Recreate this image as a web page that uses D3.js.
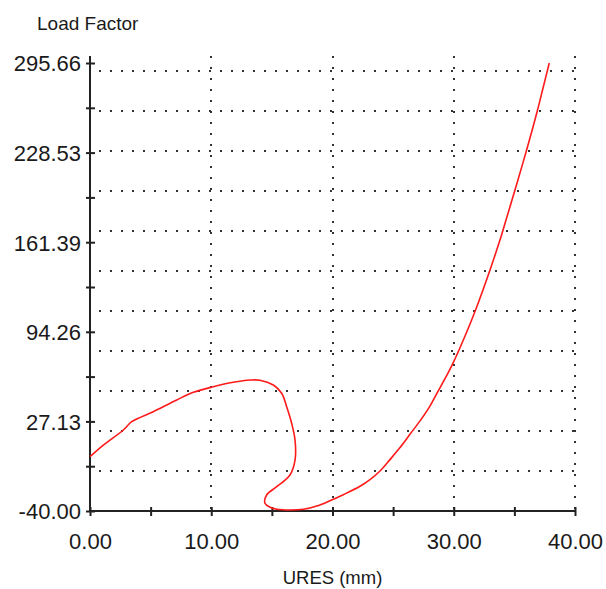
<!DOCTYPE html>
<html>
<head>
<meta charset="utf-8">
<script src="https://cdn.jsdelivr.net/npm/d3@7"></script>
<style>
  body { margin: 0; background: #fff; }
  text { font-family: "Liberation Sans", Arial, sans-serif; fill: #1a1a1a; }
</style>
</head>
<body>
<svg id="chart" width="606" height="589"></svg>
<script>
// displacement (mm) vs load factor
const ures = [0, 1.10, 2.75, 3.44, 5.22, 7.15, 8.52, 10.17, 11.82, 13.2, 14.02, 15.12, 15.81, 16.22,
  16.63, 16.91, 16.91, 16.49, 15.40, 14.57, 14.43, 14.85, 15.40, 16.49, 17.6, 18.7, 19.79, 20.89,
  22.27, 23.09, 23.92, 24.74, 25.57, 26.39, 27.22, 28.0, 28.6, 29.3, 29.9, 30.79, 31.8, 32.99,
  33.81, 34.31, 35.05, 36.01, 36.89, 37.39, 37.88];
const loadFactor = [0.7, 9.4, 20.7, 26.9, 34.4, 43.2, 48.9, 53.1, 56.4, 58.1, 58.0, 54.4, 48.2, 38.1,
  25.7, 13.2, -1.8, -13.0, -21.8, -28.0, -34.2, -37.2, -38.7, -39.3, -38.7, -36.3, -32.3, -27.8,
  -21.5, -16.5, -10.0, -1.5, 7.5, 17.5, 27.5, 38.0, 48.0, 59.5, 70.0, 88.1, 110.6, 140.6,
  163.0, 178.0, 200.5, 230.5, 259.7, 277.9, 295.66];

const xTicks = [0, 5, 10, 15, 20, 25, 30, 35, 40];
const xTickLabels = ["0.00", "", "10.00", "", "20.00", "", "30.00", "", "40.00"];
const yTicks = [-40, -6.434, 27.13, 60.697, 94.26, 127.83, 161.39, 194.96, 228.53, 262.09, 295.66];
const yTickLabels = ["-40.00", "", "27.13", "", "94.26", "", "161.39", "", "228.53", "", "295.66"];
const xGrid = [10, 20, 30, 40];
const yGrid = [-10, 20, 50, 80, 110, 140, 170, 200, 230, 260, 290];

const svg = d3.select("#chart");
const mLeft = 90, mRight = 575, mTop = 63, mBottom = 511;

const x = d3.scaleLinear().domain([0, 40]).range([mLeft, mRight]);
const y = d3.scaleLinear().domain([-40, 295.66]).range([mBottom, mTop]);

// dotted grid
const grid = svg.append("g").attr("stroke", "#333").attr("stroke-width", 2).attr("stroke-dasharray", "2 9");
grid.selectAll(".gy").data(yGrid).join("line")
  .attr("x1", mLeft + 9).attr("x2", mRight)
  .attr("y1", d => Math.round(y(d))).attr("y2", d => Math.round(y(d)));
grid.selectAll(".gx").data(xGrid).join("line")
  .attr("x1", d => Math.round(x(d))).attr("x2", d => Math.round(x(d)))
  .attr("y1", 56).attr("y2", mBottom);

// axes
const yAxis = d3.axisLeft(y).tickValues(yTicks).tickSize(4)
  .tickFormat((d, i) => yTickLabels[i]);
const xAxis = d3.axisBottom(x).tickValues(xTicks).tickSize(4)
  .tickFormat((d, i) => xTickLabels[i]);

const gy = svg.append("g").attr("transform", `translate(${mLeft},0)`).call(yAxis);
gy.select(".domain").attr("d", `M0,56V${mBottom}`);
gy.selectAll(".tick line").attr("x1", 5).attr("x2", -4);
gy.selectAll(".tick text").attr("x", -9).attr("dy", "0.36em");

const gx = svg.append("g").attr("transform", `translate(0,${mBottom})`).call(xAxis);
gx.select(".domain").attr("d", `M${mLeft},0H${mRight}`);
gx.selectAll(".tick line").attr("y1", -4).attr("y2", 5);
gx.selectAll(".tick text").attr("y", 22).attr("dy", "0.71em");

svg.selectAll(".domain, .tick line").attr("stroke", "#222").attr("stroke-width", 2);
svg.selectAll(".tick text").attr("font-size", 22).attr("fill", "#1a1a1a")
  .attr("font-family", "Liberation Sans, Arial, sans-serif");

// curve
const pts = ures.map((u, i) => [u, loadFactor[i]]);
svg.append("path").datum(pts)
  .attr("fill", "none").attr("stroke", "#ff1a1a").attr("stroke-width", 1.6)
  .attr("stroke-linejoin", "round")
  .attr("d", d3.line().curve(d3.curveCatmullRom.alpha(0.5)).x(d => x(d[0])).y(d => y(d[1])));

// titles
svg.append("text").attr("x", 37).attr("y", 30).attr("font-size", 19).text("Load Factor");
svg.append("text").attr("x", (mLeft + mRight) / 2).attr("y", 584).attr("font-size", 18.5)
  .attr("text-anchor", "middle").text("URES (mm)");
</script>
</body>
</html>
